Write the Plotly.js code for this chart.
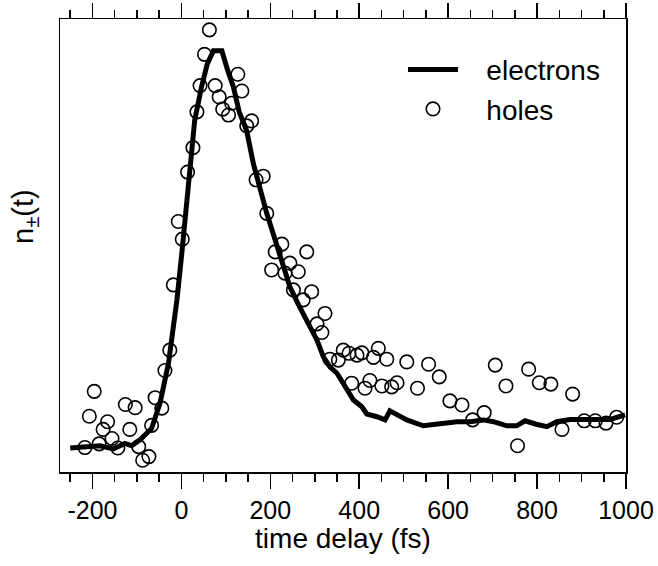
<!DOCTYPE html>
<html>
<head>
<meta charset="utf-8">
<script src="https://cdn.plot.ly/plotly-3.0.1.min.js"></script>
<style>html,body{margin:0;padding:0;background:#fff;}#chart{width:658px;height:566px;}</style>
</head>
<body>
<div id="chart"></div>
<script>
// electrons (solid line)
const electronT = [-250, -213, -183, -153, -127, -112, -93, -67, -48, -29, -10, 1, 8, 18, 23, 30, 46, 58, 72, 91, 104, 117, 130, 147, 162, 177, 192, 218, 244, 263, 282, 305, 319, 334, 350, 368, 387, 406, 417, 440, 458, 469, 485, 507, 544, 582, 620, 649, 679, 702, 732, 754, 773, 796, 822, 844, 874, 904, 934, 964, 998];
const electronN = [5.3, 5.6, 5.8, 5.1, 6.3, 5.8, 7.1, 9.6, 15.2, 24, 38, 48.3, 55.6, 65.9, 71.5, 77.7, 85.3, 90, 93, 93, 88.7, 85, 79.5, 75.3, 68, 62, 57.1, 49, 40.9, 37, 33.6, 29.1, 25.5, 23.2, 21.8, 18.8, 15.9, 14.4, 12.8, 12.2, 11.5, 13.5, 12.6, 11.5, 10.2, 10.6, 11.1, 11.1, 11.5, 11.1, 10.2, 10.2, 11.3, 10.6, 10, 11.1, 11.6, 11.6, 11.5, 11.6, 12.6];
// holes (open circles)
const holeT = [-217, -207, -196, -185, -176, -166, -156, -143, -126, -116, -104, -96, -87, -73, -67, -59, -44, -37, -26, -18, -7, 2, 14, 26, 35, 42, 52, 63, 76, 85, 93, 106, 113, 127, 136, 147, 158, 168, 184, 192, 203, 211, 226, 233, 244, 252, 263, 274, 282, 293, 305, 316, 323, 334, 353, 364, 377, 383, 395, 406, 413, 424, 432, 443, 451, 462, 473, 485, 507, 531, 556, 580, 604, 631, 655, 681, 706, 730, 756, 781, 805, 831, 856, 880, 906, 931, 955, 979];
const holeN = [5.4, 12.3, 17.8, 6.2, 9.4, 11.1, 7.4, 5.3, 14.9, 9.4, 14.2, 5.6, 2.6, 3.4, 10.3, 16.4, 14.1, 22.4, 26.9, 41.3, 55.3, 51.4, 66.2, 71.6, 79.5, 85.3, 92.2, 97.6, 85.3, 82.8, 80.1, 78.8, 81.4, 87.8, 84.1, 76.4, 77.5, 64.5, 65.3, 57.1, 44.6, 48.6, 50.3, 43.9, 46.1, 40.2, 44.2, 38, 48.6, 39.8, 32.7, 30.8, 35, 24.9, 24.7, 26.9, 26.2, 19.6, 25.8, 26.3, 18.5, 20.2, 25.3, 27.3, 19, 24.9, 18.8, 19.7, 24.3, 18.5, 23.8, 21, 15.7, 14.8, 11.5, 13.1, 23.6, 19, 5.8, 22.7, 19.7, 19.4, 9.4, 17.2, 11.3, 11.3, 10.8, 12.1];
const seriesNames = ['electrons', 'holes'];
const tickVals = [-200, 0, 200, 400, 600, 800, 1000];
const tickText = ['-200', '0', '200', '400', '600', '800', '1000'];
const xTitle = 'time delay (fs)';
const yTitle = 'n<sub>±</sub>(t)';

const FONT = 'Liberation Sans, Arial, Helvetica, sans-serif';
const PAD = '\u00a0\u00a0\u00a0';

const traces = [
  {x: electronT, y: electronN, mode: 'lines', name: PAD + seriesNames[0],
   line: {color: '#000', width: 5}},
  {x: holeT, y: holeN, mode: 'markers', name: PAD + seriesNames[1],
   marker: {symbol: 'circle-open', size: 13.5, color: '#000', line: {width: 1.6, color: '#000'}}}
];

const layout = {
  width: 658, height: 566,
  margin: {l: 60, r: 32, t: 19, b: 94},
  paper_bgcolor: '#fff', plot_bgcolor: '#fff',
  font: {family: FONT, size: 25, color: '#000'},
  showlegend: true,
  legend: {x: 0.606, y: 0.943, xanchor: 'left', yanchor: 'top', bgcolor: 'rgba(0,0,0,0)',
           font: {family: FONT, size: 28, color: '#000'}, itemwidth: 50, tracegroupgap: 0},
  xaxis: {
    range: [-273, 1000], tickmode: 'array', tickvals: tickVals, ticktext: tickText,
    showline: true, linecolor: '#000', linewidth: 1.5, mirror: 'allticks',
    ticks: 'outside', ticklen: 15, tickwidth: 1.5, tickcolor: '#000',
    minor: {dtick: 50, tick0: 0, ticks: 'outside', ticklen: 8, tickwidth: 1.5, tickcolor: '#000'},
    showgrid: false, zeroline: false,
    tickfont: {family: FONT, size: 25, color: '#000'},
    title: {text: xTitle, font: {family: FONT, size: 28, color: '#000'}, standoff: 6}
  },
  yaxis: {
    range: [0, 100], showline: true, linecolor: '#000', linewidth: 1.5, mirror: true,
    ticks: '', showticklabels: false, showgrid: false, zeroline: false
  },
  annotations: [{
    text: yTitle, xref: 'paper', yref: 'paper', x: -35 / 566, y: (472 - 217) / 453,
    xanchor: 'center', yanchor: 'middle', textangle: -90, showarrow: false,
    font: {family: FONT, size: 29, color: '#000'}
  }]
};

Plotly.newPlot('chart', traces, layout, {displayModeBar: false, staticPlot: true});
</script>
</body>
</html>
